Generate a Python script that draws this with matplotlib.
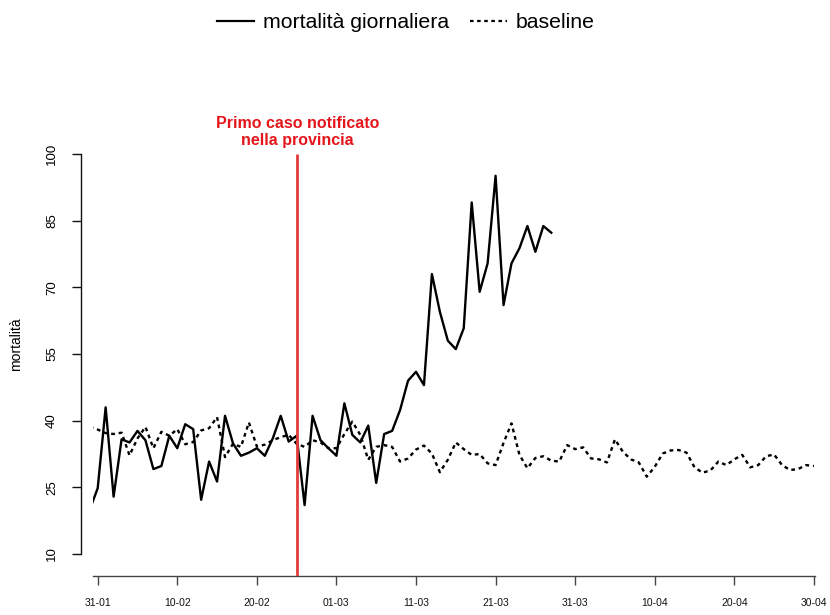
import numpy as np
import matplotlib
matplotlib.use("Agg")
import matplotlib.pyplot as plt
from matplotlib.lines import Line2D

plt.rcParams['font.family'] = ['Liberation Sans', 'DejaVu Sans']

# days counted from 31-01 (2020); day -1 = 30-01
tick_days = [0, 10, 20, 30, 40, 50, 60, 70, 80, 90]
tick_labels = ["31-01", "10-02", "20-02", "01-03", "11-03", "21-03",
               "31-03", "10-04", "20-04", "30-04"]
y_ticks = [10, 25, 40, 55, 70, 85, 100]

mort_start = -1
mortalita = [20.0, 24.8, 43.0, 22.9, 35.8, 35.1, 37.7, 35.6, 29.1, 29.8,
             36.6, 33.8, 39.2, 38.1, 22.2, 30.8, 26.3, 41.1, 34.9, 32.1,
             32.8, 33.8, 32.1, 36.0, 41.1, 35.3, 36.6, 21.0, 41.1, 35.6,
             33.8, 32.1, 43.9, 36.8, 35.1, 38.9, 26.0, 37.0, 37.7, 42.4,
             49.0, 51.0, 48.0, 73.0, 64.5, 58.0, 56.1, 60.8, 89.1, 69.0,
             75.4, 95.1, 66.0, 75.4, 78.8, 83.8, 78.0, 83.8, 82.3]

base_start = -1
baseline = [38.6, 38.0, 37.2, 37.0, 37.3, 32.2, 36.0, 38.6, 33.8, 37.5,
            36.6, 38.1, 34.7, 35.2, 37.8, 38.3, 40.8, 31.8, 34.8, 34.1,
            39.6, 34.2, 34.6, 35.6, 36.3, 36.8, 34.8, 34.1, 35.6, 35.1,
            33.8, 33.8, 37.0, 39.8, 36.8, 31.2, 34.1, 34.5, 34.1, 30.8,
            31.5, 33.5, 34.4, 32.6, 28.4, 31.2, 35.1, 33.6, 32.3, 32.5,
            30.4, 30.0, 35.0, 39.4, 32.3, 29.3, 31.6, 32.0, 31.0, 30.8,
            34.5, 33.6, 34.0, 31.5, 31.3, 30.6, 35.8, 33.0, 31.3, 30.6,
            27.4, 29.6, 32.6, 33.3, 33.4, 32.8, 29.5, 28.3, 28.8, 30.8,
            30.0, 31.3, 32.3, 29.5, 30.0, 32.0, 32.4, 30.0, 28.9, 29.1,
            30.0, 29.8]

primo_caso_day = 25  # 25-02
annot_text = "Primo caso notificato\nnella provincia"

W, H = 830, 615
fig = plt.figure(figsize=(W / 100, H / 100), dpi=100)

left_px, right_px = 93, 815
bottom_px, top_px = 576, 151.8
ax = fig.add_axes([left_px / W, (H - bottom_px) / H,
                   (right_px - left_px) / W, (bottom_px - top_px) / H])

xm = np.arange(mort_start, mort_start + len(mortalita))
xb = np.arange(base_start, base_start + len(baseline))

ax.plot(xm, mortalita, color='black', lw=1.7, label='mortalità giornaliera')
ax.plot(xb, baseline, color='black', lw=1.7, linestyle=(0, (1.6, 1.6)),
        label='baseline')

ax.set_xlim(-0.59, 90.14)
ax.set_ylim(5.05, 100.5)

ax.vlines(primo_caso_day, 5.05, 100, color='#e23b3b', lw=2.0, zorder=5)
ax.text(primo_caso_day + 0.1, 105.0, annot_text, color='#e4161c', fontsize=11.5,
        fontweight='bold', ha='center', va='center', multialignment='center',
        linespacing=1.2, clip_on=False)

for s in ['top', 'right']:
    ax.spines[s].set_visible(False)
ax.spines['left'].set_position(('outward', 8.64))
ax.spines['left'].set_bounds(10, 100)
ax.spines['left'].set_color('#111111')
ax.spines['bottom'].set_color('#444444')
ax.spines['left'].set_linewidth(1.0)
ax.spines['bottom'].set_linewidth(1.0)

ax.set_yticks(y_ticks)
ax.set_yticklabels([str(v) for v in y_ticks], rotation=90, va='center')
ax.set_xticks(tick_days)
ax.set_xticklabels(tick_labels)
ax.tick_params(axis='y', direction='out', length=6.5, width=1.0,
               labelsize=9.5, pad=10, color='#111111')
ax.tick_params(axis='x', direction='out', length=6.5, width=1.0,
               labelsize=7.5, pad=9.5, color='#444444', labelcolor='#111111')
ax.set_ylabel('mortalità', fontsize=10)
ax.yaxis.set_label_coords((23 - left_px) / (right_px - left_px),
                          (bottom_px - 344) / (bottom_px - top_px))

handles = [Line2D([], [], color='black', lw=1.6),
           Line2D([], [], color='black', lw=1.6, linestyle=(0, (1.6, 1.6)))]
fig.legend(handles, ['mortalità giornaliera', 'baseline'], loc='center',
           bbox_to_anchor=(406 / W, 1 - 23 / H), ncol=2, frameon=False,
           fontsize=15.3, handlelength=1.75, handletextpad=0.4,
           columnspacing=1.0)

fig.savefig('out.png', dpi=100)
